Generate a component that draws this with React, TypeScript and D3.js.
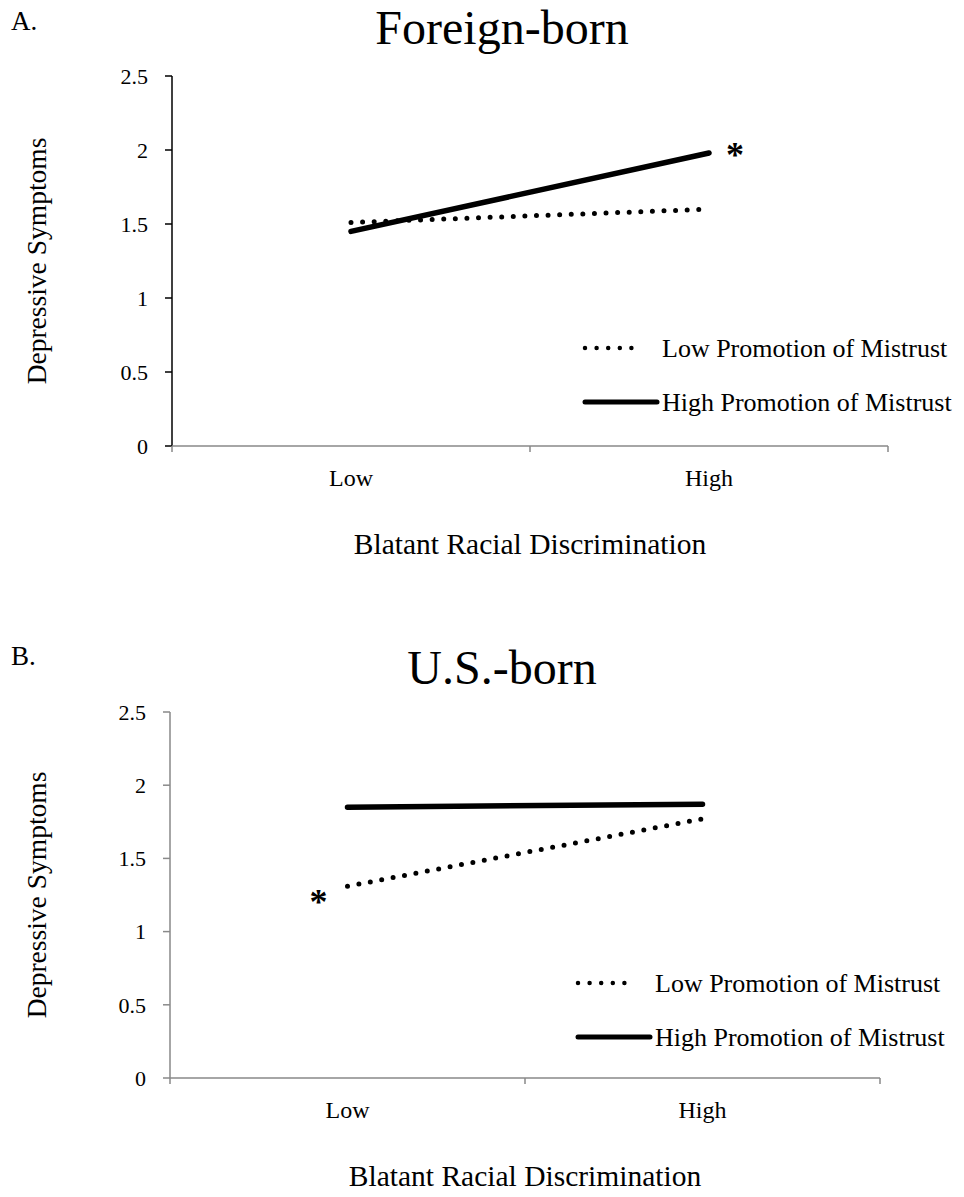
import React from "react";
import * as d3 from "d3";

const W = 964;
const H = 1197;

const categories = ["Low", "High"];
const yTicks = [0, 0.5, 1, 1.5, 2, 2.5];
const seriesNames = ["Low Promotion of Mistrust", "High Promotion of Mistrust"];

// panel A: foreign-born
const foreignLow = [1.51, 1.6];
const foreignHigh = [1.45, 1.98];
// panel B: U.S.-born
const usLow = [1.31, 1.77];
const usHigh = [1.85, 1.87];

const FONT = "'Liberation Serif', 'Times New Roman', serif";

type PanelProps = {
  letter: string;
  letterY: number;
  title: string;
  titleY: number;
  low: number[];
  high: number[];
  top: number; // y of 2.5
  bottom: number; // y of 0
  left: number;
  right: number;
  yAxisColor: string;
  star: { cat: string; series: "low" | "high"; dx: number; dy: number };
  legend: { x: number; y: number };
};

function Panel(p: PanelProps) {
  const x = d3.scaleBand().domain(categories).range([p.left, p.right]).padding(0);
  const y = d3.scaleLinear().domain([0, 2.5]).range([p.bottom, p.top]);
  const cx = (c: string) => (x(c) as number) + x.bandwidth() / 2;
  const line = d3
    .line<number>()
    .x((_, i) => cx(categories[i]))
    .y(d => y(d));

  const starVals = p.star.series === "low" ? p.low : p.high;
  const si = categories.indexOf(p.star.cat);
  const xTickPos = [p.left, ...categories.map(c => (x(c) as number) + x.bandwidth())];
  const midY = (p.top + p.bottom) / 2;

  return (
    <g>
      <text x={11} y={p.letterY} fontSize={27} fontFamily={FONT}>{p.letter}</text>
      <text x={502} y={p.titleY} fontSize={48} textAnchor="middle" fontFamily={FONT}>{p.title}</text>

      {/* y axis */}
      <line x1={p.left} x2={p.left} y1={p.top} y2={p.bottom} stroke={p.yAxisColor} strokeWidth={1.5} />
      {yTicks.map(t => (
        <g key={t}>
          <line x1={p.left - 7} x2={p.left} y1={y(t)} y2={y(t)} stroke={p.yAxisColor} strokeWidth={1.5} />
          <text x={p.left - 24} y={y(t)} dy="0.35em" fontSize={22} textAnchor="end" fontFamily={FONT}>{t}</text>
        </g>
      ))}
      <text
        transform={`translate(36,${midY}) rotate(-90)`}
        fontSize={27.5}
        textAnchor="middle"
        dy="0.35em"
        fontFamily={FONT}
      >
        Depressive Symptoms
      </text>

      {/* x axis */}
      <line x1={p.left} x2={p.right} y1={p.bottom} y2={p.bottom} stroke="#898989" strokeWidth={1.5} />
      {xTickPos.map((t, i) => (
        <line key={i} x1={t} x2={t} y1={p.bottom} y2={p.bottom + 6} stroke="#898989" strokeWidth={1.5} />
      ))}
      {categories.map(c => (
        <text key={c} x={cx(c)} y={p.bottom + 32} dy="0.35em" fontSize={24} textAnchor="middle" fontFamily={FONT}>{c}</text>
      ))}
      <text x={(p.left + p.right) / 2} y={p.bottom + 98} dy="0.35em" fontSize={29.5} textAnchor="middle" fontFamily={FONT}>
        Blatant Racial Discrimination
      </text>

      {/* series */}
      <path d={line(p.low) as string} fill="none" stroke="#000" strokeWidth={5} strokeLinecap="round" strokeDasharray="0 11.6" />
      <path d={line(p.high) as string} fill="none" stroke="#000" strokeWidth={5.5} strokeLinecap="round" />
      <text
        x={cx(p.star.cat) + p.star.dx}
        y={y(starVals[si]) + p.star.dy}
        fontSize={36}
        fontWeight="bold"
        textAnchor="middle"
        fontFamily={FONT}
      >
        *
      </text>

      {/* legend */}
      <line x1={p.legend.x} x2={p.legend.x + 58} y1={p.legend.y} y2={p.legend.y} stroke="#000" strokeWidth={4.5} strokeLinecap="round" strokeDasharray="0 11.6" />
      <text x={p.legend.x + 77} y={p.legend.y} dy="0.35em" fontSize={26} fontFamily={FONT}>{seriesNames[0]}</text>
      <line x1={p.legend.x} x2={p.legend.x + 72} y1={p.legend.y + 54} y2={p.legend.y + 54} stroke="#000" strokeWidth={5} strokeLinecap="round" />
      <text x={p.legend.x + 77} y={p.legend.y + 54} dy="0.35em" fontSize={26} fontFamily={FONT}>{seriesNames[1]}</text>
    </g>
  );
}

export default function App() {
  return (
    <svg width={W} height={H} style={{ display: "block", margin: -8 }}>
      <rect width={W} height={H} fill="#fff" />
      <Panel
        letter="A."
        letterY={30}
        title="Foreign-born"
        titleY={44}
        low={foreignLow}
        high={foreignHigh}
        top={76}
        bottom={446}
        left={172}
        right={888}
        yAxisColor="#000"
        star={{ cat: "High", series: "high", dx: 26, dy: 14 }}
        legend={{ x: 585, y: 348 }}
      />
      <Panel
        letter="B."
        letterY={665}
        title="U.S.-born"
        titleY={684}
        low={usLow}
        high={usHigh}
        top={712}
        bottom={1078}
        left={170}
        right={880}
        yAxisColor="#898989"
        star={{ cat: "Low", series: "low", dx: -29, dy: 28 }}
        legend={{ x: 578, y: 983 }}
      />
    </svg>
  );
}
